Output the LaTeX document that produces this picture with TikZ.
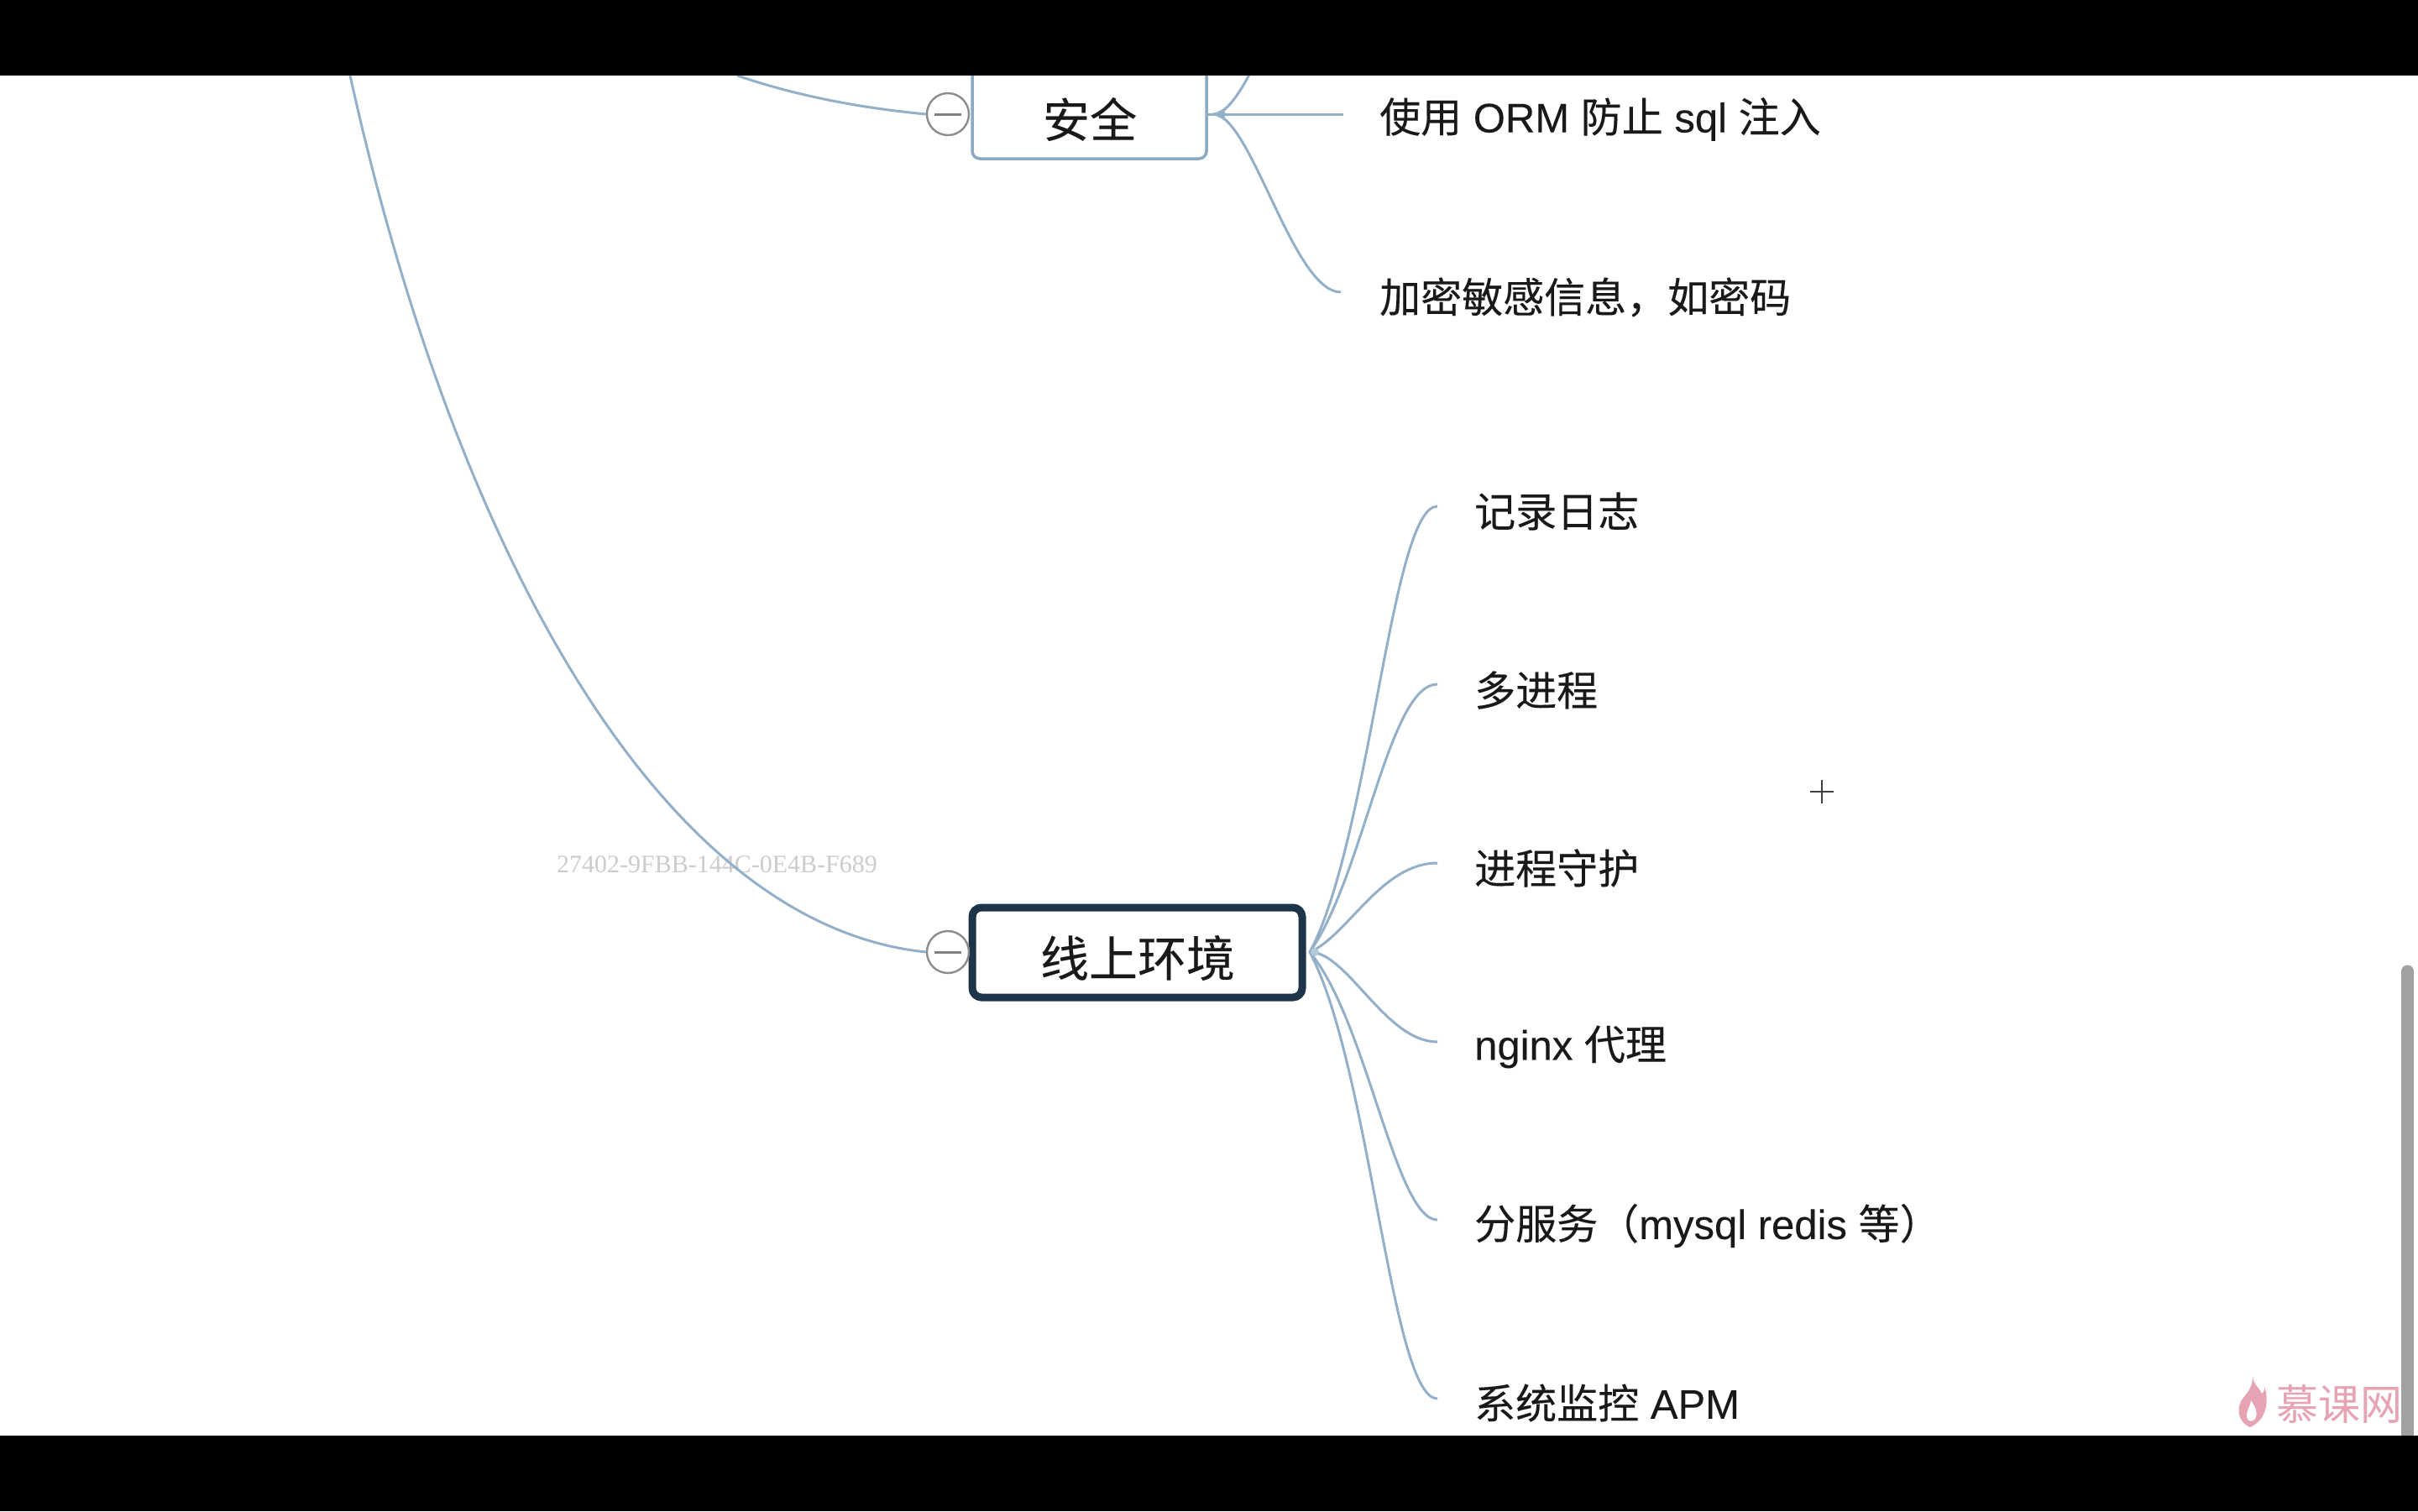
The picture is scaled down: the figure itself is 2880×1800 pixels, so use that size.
\documentclass[tikz,border=0pt]{standalone}
\usepackage{fontspec}
\setmainfont[FakeBold=0.12,AutoFakeBold=false]{Liberation Sans}
\newfontfamily\cjk[FakeBold=0.18]{Noto Sans CJK SC}
\newfontfamily\cjklogo{Noto Sans CJK SC}
\newfontfamily\serifwm{Liberation Serif}
\usetikzlibrary{calc}
\definecolor{linkblue}{HTML}{93B0C8}
\definecolor{boxblue}{HTML}{8CA9C2}
\definecolor{navy}{HTML}{1E3448}
\definecolor{pinkwm}{HTML}{E6A3B3}
\newcommand{\Z}[1]{{\cjk #1}}
\tikzset{
  x=1pt,y=-1pt,
  link/.style={draw=linkblue,line width=3pt},
  leaf/.style={anchor=west,inner sep=0pt,font=\fontsize{49}{52}\selectfont,text=black!90},
  topic/.style={text=black!90,inner sep=0pt},
  collapse/.style={circle,draw=black!45,line width=2.4pt,fill=white,minimum size=50pt,inner sep=0pt},
  bar/.style={fill=black,draw=none}
}
\begin{document}
\begin{tikzpicture}
\useasboundingbox (0,0) rectangle (2880,1800);
\fill[white] (0,0) rectangle (2880,1800);

% watermark id
\node[font=\serifwm\fontsize{30}{32}\selectfont,text=black!20,inner sep=0pt] (wm) at (854,1030) {27402-9FBB-144C-0E4B-F689};

% hubs and free ends
\coordinate (secHub) at (1445,136);
\coordinate (envHub) at (1560,1134);
\coordinate (rootA) at (417,90);
\coordinate (rootB) at (878,90);
\coordinate (secTop) at (1600,-73);

% topic boxes
\draw[boxblue,line width=3.5pt,rounded corners=9pt,fill=white] (1158,60) rectangle (1437,189);
\node[topic,font=\fontsize{56}{58}\selectfont] (sec) at (1298,142) {\Z{安全}};
\draw[navy,line width=9pt,rounded corners=11pt,fill=white] (1158,1081) rectangle (1551,1188);
\node[topic,font=\fontsize{58}{60}\selectfont] (env) at (1355,1141) {\Z{线上环境}};

% collapse buttons
\node[collapse] (secBtn) at (1129,136) {};
\draw[black!50,line width=3pt] (1113,136) -- (1145,136);
\node[collapse] (envBtn) at (1129,1134) {};
\draw[black!50,line width=3pt] (1113,1134) -- (1145,1134);

% leaves
\node[leaf] (s2) at (1643,142) {\Z{使用} ORM \Z{防止} sql \Z{注入}};
\node[leaf] (s3) at (1643,354) {\Z{加密敏感信息，如密码}};
\node[leaf] (e1) at (1756,609) {\Z{记录日志}};
\node[leaf] (e2) at (1756,822) {\Z{多进程}};
\node[leaf] (e3) at (1756,1034) {\Z{进程守护}};
\node[leaf] (e4) at (1756,1247) {nginx \Z{代理}};
\node[leaf] (e5) at (1756,1460) {\Z{分服务（}mysql redis \Z{等）}};
\node[leaf] (e6) at (1756,1671) {\Z{系统监控} APM};

% connectors
\draw[link] (rootA) .. controls (535,625) and (775,1100) .. (envBtn.west);
\draw[link] (rootB) .. controls (960,118) and (1040,130) .. (secBtn.west);

\draw[link] (secHub) .. controls +(45,0) and +(-60,0) .. (secTop);
\draw[link] (1437,136) -- ($(s2.west)+(-43,-6)$);
\draw[link] (secHub) .. controls +(45,0) and +(-57,0) .. ($(s3.west)+(-46,-6)$);
\fill[linkblue] (1455,136) circle (5pt);

\draw[link] (envHub) .. controls +(72,-134) and +(-55,0) .. ($(e1.west)+(-44,-6)$);
\draw[link] (envHub) .. controls +(64,-90) and +(-58,0) .. ($(e2.west)+(-44,-7)$);
\draw[link] (envHub) .. controls +(45,-19) and +(-67,0) .. ($(e3.west)+(-44,-6)$);
\draw[link] (envHub) .. controls +(45,0) and +(-62,0) .. ($(e4.west)+(-44,-6)$);
\draw[link] (envHub) .. controls +(68,81) and +(-50,0) .. ($(e5.west)+(-44,-7)$);
\draw[link] (envHub) .. controls +(72,136) and +(-55,0) .. ($(e6.west)+(-44,-5)$);
\fill[linkblue!70] (1566,1134) circle (5pt);

% cursor
\draw[black!75,line width=1.6pt] (2156,943) -- (2184,943) (2170,929) -- (2170,957);

% scrollbar
\draw[line cap=round,line width=15pt,color=black!37] (2867.5,1157) -- (2867.5,1730);

% logo
\fill[pinkwm] (2683,1639) .. controls (2684,1650) and (2692,1654) .. (2694,1660)
  .. controls (2697,1658) and (2697,1654) .. (2697,1652)
  .. controls (2702,1665) and (2702,1690) .. (2680,1700)
  .. controls (2668,1695) and (2664,1682) .. (2668,1672)
  .. controls (2670,1664) and (2684,1656) .. (2683,1639) -- cycle;
\fill[white] (2681,1668) .. controls (2686,1676) and (2690,1682) .. (2686,1690)
  .. controls (2682,1694) and (2678,1694) .. (2676,1688)
  .. controls (2675,1681) and (2680,1676) .. (2681,1668) -- cycle;
\node[font=\cjklogo\fontsize{50}{52}\selectfont,text=pinkwm,inner sep=0pt,anchor=west] (logo) at (2711,1672) {慕课网};

% letterbox bars
\fill[bar] (0,0) rectangle (2880,90);
\fill[bar] (0,1710) rectangle (2880,1800);
\end{tikzpicture}
\end{document}
